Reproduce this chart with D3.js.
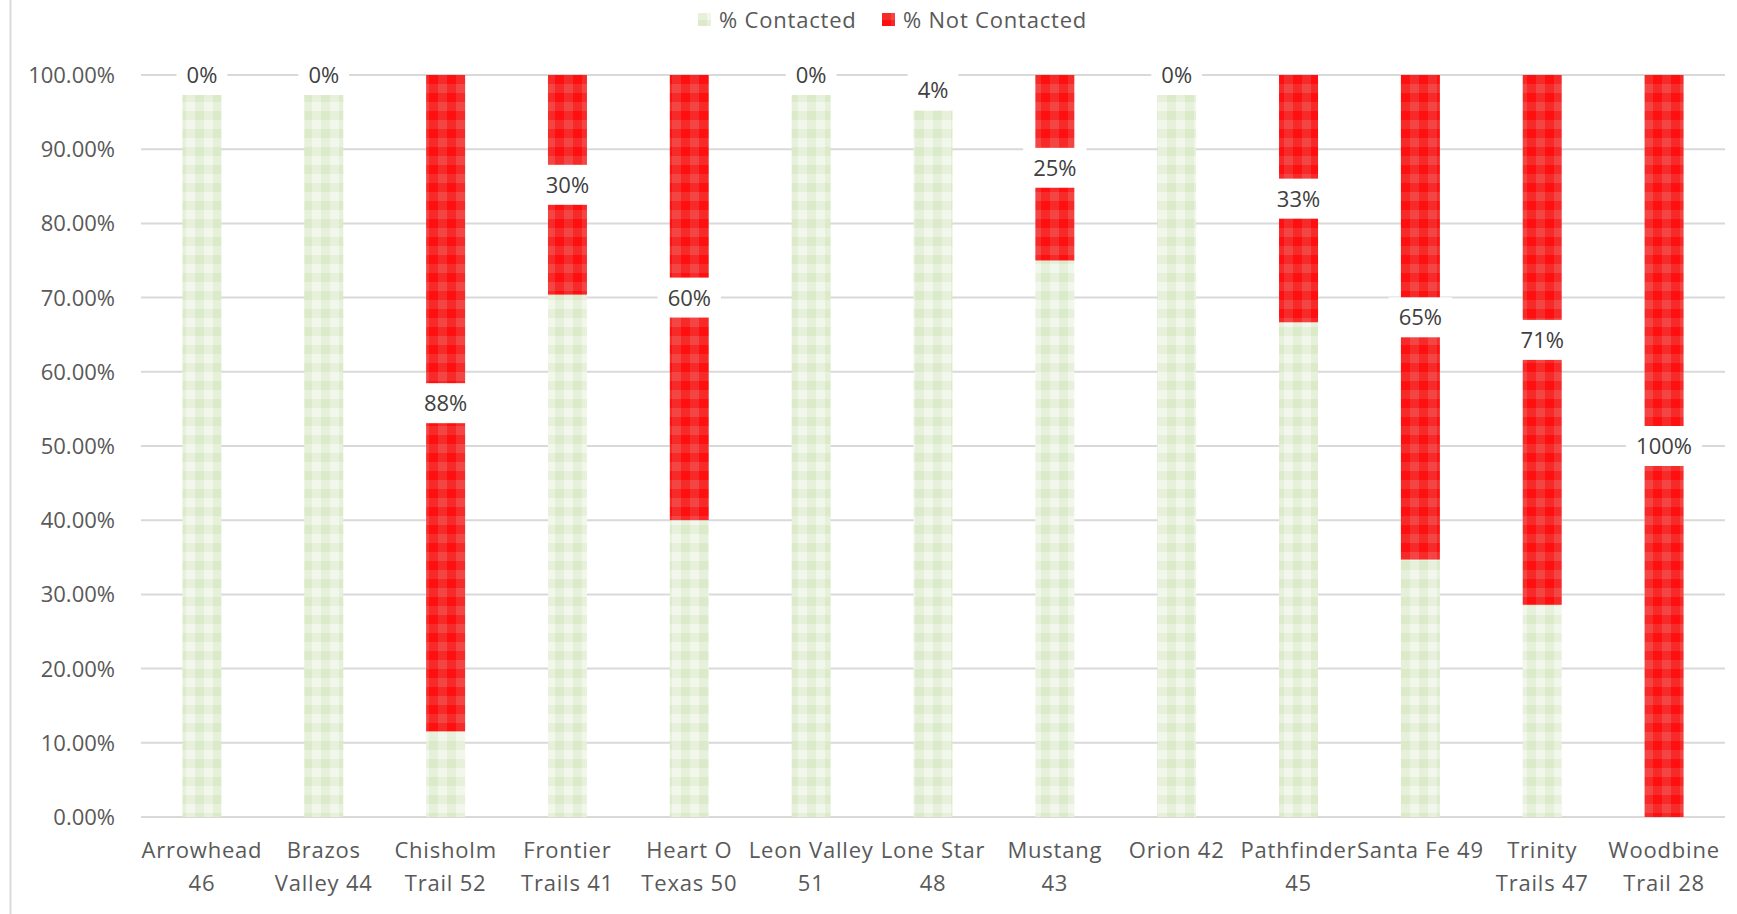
<!DOCTYPE html>
<html lang="en">
<head>
    <meta charset="UTF-8">
    <title>Contacted vs Not Contacted</title>
    <script src="https://cdn.jsdelivr.net/npm/d3@7"></script>
    <style>
        body { margin: 0; background: #fff; font-family: "Open Sans", sans-serif; }
        text { fill: #595959; }
    </style>
</head>
<body>
    <div id="chart"></div>

    <script>
        // Categories (each split into the two lines shown under the bars)
        const categories = [
            ["Arrowhead", "46"], ["Brazos", "Valley 44"], ["Chisholm", "Trail 52"],
            ["Frontier", "Trails 41"], ["Heart O", "Texas 50"], ["Leon Valley", "51"],
            ["Lone Star", "48"], ["Mustang", "43"], ["Orion 42"], ["Pathfinder", "45"],
            ["Santa Fe 49"], ["Trinity", "Trails 47"], ["Woodbine", "Trail 28"]
        ];
        const contacted    = [100, 100, 11.54, 70.4, 40, 100, 95.83, 75, 100, 66.67, 34.69, 28.6, 0];
        const notContacted = [0, 0, 88.46, 29.6, 60, 0, 4.17, 25, 0, 33.33, 65.31, 71.4, 100];
        const seriesNames = ["% Contacted", "% Not Contacted"];
        const yTicks = [0, 10, 20, 30, 40, 50, 60, 70, 80, 90, 100];

        var W = 1737, H = 914;
        var margin = { top: 75, right: 12, bottom: 97, left: 141 };
        var width = W - margin.left - margin.right,
            height = H - margin.top - margin.bottom;

        var svg = d3.select("#chart").append("svg")
            .attr("width", W).attr("height", H);

        // checked fills, like the Excel pattern fill
        var defs = svg.append("defs");
        function checker(id, cols) {
            var p = defs.append("pattern").attr("id", id)
                .attr("patternUnits", "userSpaceOnUse")
                .attr("width", 18).attr("height", 18);
            p.append("rect").attr("width", 9).attr("height", 9).attr("fill", cols[0]);
            p.append("rect").attr("x", 9).attr("width", 9).attr("height", 9).attr("fill", cols[1]);
            p.append("rect").attr("y", 9).attr("width", 9).attr("height", 9).attr("fill", cols[1]);
            p.append("rect").attr("x", 9).attr("y", 9).attr("width", 9).attr("height", 9).attr("fill", cols[2]);
        }
        checker("pGreen", ["#dbeac8", "#e6f0da", "#f2f7ec"]);
        checker("pRed", ["#ff0f0f", "#f72a2a", "#f44545"]);
        var fills = ["url(#pGreen)", "url(#pRed)"];

        // chart-area left border
        svg.append("line").attr("x1", 10.5).attr("x2", 10.5).attr("y1", 0).attr("y2", H)
            .attr("stroke", "#d9d9d9").attr("stroke-width", 2);

        var g = svg.append("g").attr("transform", `translate(${margin.left},${margin.top})`);

        var x = d3.scaleBand().domain(d3.range(categories.length)).range([0, width]).paddingInner(0.68).paddingOuter(0.34);
        var y = d3.scaleLinear().domain([0, 100]).range([height, 0]);

        // gridlines + y labels
        g.append("g").selectAll("line").data(yTicks).enter().append("line")
            .attr("x1", 0).attr("x2", width)
            .attr("y1", d => y(d)).attr("y2", d => y(d))
            .attr("stroke", "#d9d9d9").attr("stroke-width", 2);

        g.append("g").selectAll("text").data(yTicks).enter().append("text")
            .attr("x", -26).attr("y", d => y(d)).attr("dy", "0.36em")
            .attr("text-anchor", "end").style("font-size", "22px")
            .text(d => d.toFixed(2) + "%");

        // stacked bars
        var rows = categories.map((c, i) => ({ i: i, c: contacted[i], n: notContacted[i] }));
        var stack = d3.stack().keys(["c", "n"])(rows);

        g.append("g").selectAll("g").data(stack).enter().append("g")
            .attr("fill", (d, k) => fills[k])
            .selectAll("rect").data(d => d).enter().append("rect")
            .attr("x", d => x(d.data.i))
            .attr("width", x.bandwidth())
            .attr("y", d => y(d[1]))
            .attr("height", d => y(d[0]) - y(d[1]));

        // data labels for % Not Contacted, on white boxes
        var lab = g.append("g").selectAll("g").data(stack[1]).enter().append("g")
            .attr("transform", d => `translate(${x(d.data.i) + x.bandwidth() / 2},${y((d[0] + d[1]) / 2)})`);
        lab.append("text")
            .attr("text-anchor", "middle").attr("dy", "0.36em")
            .style("font-size", "22px").style("fill", "#404040")
            .text(d => Math.round(d.data.n) + "%");
        lab.each(function () {
            var t = d3.select(this).select("text");
            var bb = t.node().getBBox();
            d3.select(this).insert("rect", "text")
                .attr("x", bb.x - 10).attr("width", bb.width + 20)
                .attr("y", -20).attr("height", 40)
                .attr("fill", "#fff");
        });

        // category labels
        var cat = g.append("g").selectAll("text").data(categories).enter().append("text")
            .attr("text-anchor", "middle")
            .attr("transform", (d, i) => `translate(${x(i) + x.bandwidth() / 2},${height + 41})`)
            .style("font-size", "22px").style("letter-spacing", "0.8px");
        cat.selectAll("tspan").data(d => d).enter().append("tspan")
            .attr("x", 0).attr("dy", (d, j) => j ? 33 : 0)
            .text(d => d);

        // legend
        var legX = [698, 882];
        var leg = svg.append("g").selectAll("g").data(seriesNames).enter().append("g")
            .attr("transform", (d, k) => `translate(${legX[k]},20)`);
        leg.append("rect").attr("x", 0).attr("y", -7).attr("width", 13).attr("height", 13)
            .attr("fill", (d, k) => fills[k]);
        leg.append("text").attr("x", 21).attr("dy", "0.36em")
            .style("font-size", "22px").style("letter-spacing", "0.8px")
            .text(d => d);
    </script>
</body>
</html>
